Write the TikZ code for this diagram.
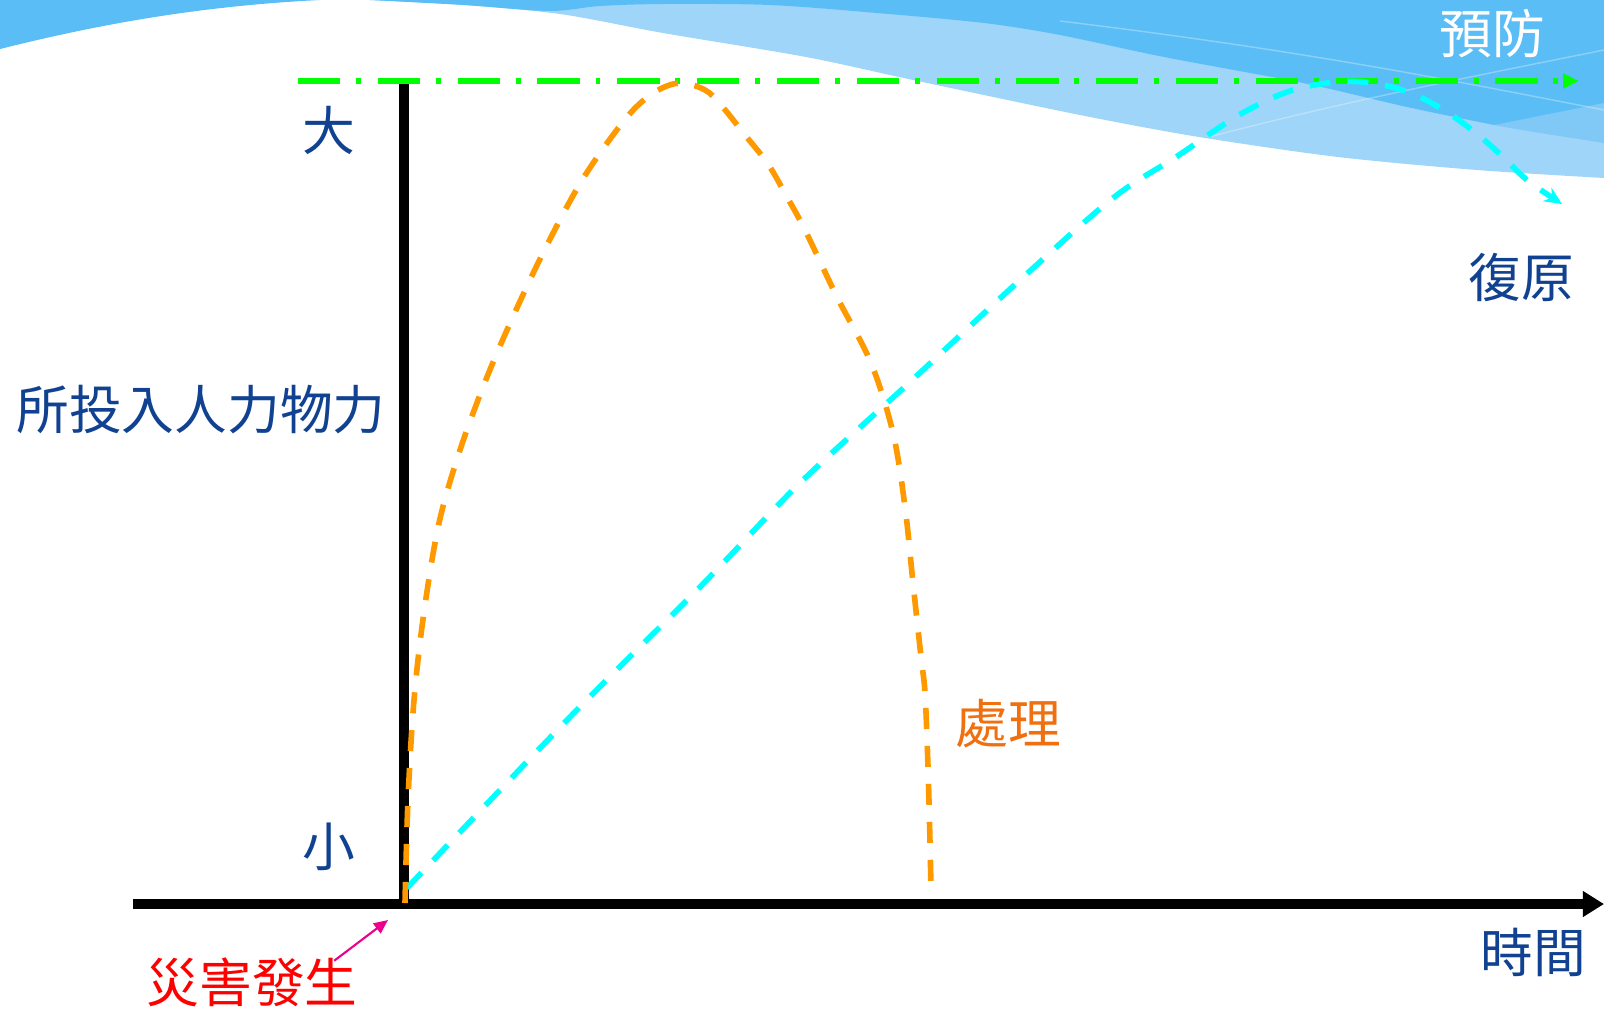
\documentclass[tikz,border=0pt]{standalone}
\usepackage{fontspec}
\newfontfamily\cjk{Noto Sans CJK TC}
\usetikzlibrary{arrows.meta, positioning, calc}
\definecolor{dmblue}{RGB}{16,66,145}
\definecolor{dmorange}{RGB}{255,153,0}
\definecolor{dmtext}{RGB}{240,112,16}
\definecolor{dmcyan}{RGB}{0,255,255}
\definecolor{dmgreen}{RGB}{0,255,0}
\definecolor{skydark}{RGB}{91,189,245}
\definecolor{skymid}{RGB}{128,200,246}
\definecolor{skylight}{RGB}{158,213,249}
\tikzset{
  dm label/.style={
    font=\cjk\fontsize{15}{18}\selectfont, text=dmblue, inner sep=0pt
  },
  dm axis/.style={
    line width=2.6pt, draw=black
  },
  dm handle/.style={
    draw=dmorange, line width=1.6pt, dash pattern=on 6pt off 4.8pt
  },
  dm recover/.style={
    draw=dmcyan, line width=1.6pt, dash pattern=on 6pt off 4.8pt,
    -{Stealth[length=5pt,width=4.5pt]}
  },
  dm prevent/.style={
    draw=dmgreen, line width=1.5pt,
    dash pattern=on 12pt off 4.5pt on 1.4pt off 4.8pt,
    -{Triangle[length=4.5pt,width=4pt]}
  },
  dm pointer/.style={
    draw=magenta, line width=0.6pt, -{Triangle[length=4pt,width=3.5pt]}
  }
}

\begin{document}
\begin{tikzpicture}[x=0.01cm, y=-0.01cm]
  \useasboundingbox (0,0) rectangle (1604,1009);

  % sky band
  \fill[skydark] (0,0) -- (0,49) .. controls (100,24) and (200,6) .. (320,0) -- cycle;
  \fill[skylight] plot[smooth] coordinates {(370,0) (464,5) (560,14) (663,33) (806,57)
    (913,80) (1080,115) (1199,137) (1338,157) (1477,170) (1604,178)} -- (1604,0) -- cycle;
  \fill[skymid] (1494,125) -- (1604,103) -- (1604,143) .. controls (1560,136) and (1520,130) .. cycle;
  \fill[skydark] plot[smooth] coordinates {(370,0) (464,5) (549,11) (600,6) (663,4) (770,5)
    (877,13) (984,23) (1060,35) (1164,57) (1303,83) (1407,107) (1494,125)}
    -- (1604,103) -- (1604,0) -- cycle;
  \draw[white, opacity=0.3, line width=0.4pt] (1060,21) .. controls (1300,50) and (1450,80) .. (1604,110);
  \draw[white, opacity=0.3, line width=0.4pt] (1209,137) .. controls (1350,100) and (1480,75) .. (1604,50);

  % axes
  \coordinate (origin) at (404,904);
  \coordinate (ytop) at (404,83);
  \coordinate (xleft) at (133,904);
  \coordinate (xright) at (1604,904);
  \draw[dm axis] (origin) -- (ytop);
  \draw[dm axis, -{Triangle[length=6pt,width=7pt]}] (xleft) -- (xright);

  % prevention level
  \coordinate (gstart) at (298,81);
  \coordinate (gend) at (1579,81);
  \draw[dm prevent] (gstart) -- (gend);

  % response curves
  \draw[dm recover] plot[smooth, tension=0.55] coordinates {(407,888) (570,717) (700,587)
    (800,483) (910,382) (1020,280) (1113,198) (1176,157) (1239,115) (1290,91) (1336,82)
    (1372,83) (1408,92) (1442,109) (1472,130) (1500,154) (1527,180) (1562,204)};
  \draw[dm handle] plot[smooth, tension=0.55] coordinates {(405,903) (408,800) (414,700)
    (424,612) (439,523) (460,450) (487,377) (516,310) (548,243) (584,177) (627,117)
    (655,92) (680,83) (705,90) (721,105) (745,135) (768,164) (787,197) (805,230)
    (837,297) (871,363) (893,433) (905,507) (913,583) (921,657) (925,693) (928,767)
    (930,843) (931,890)};

  % labels
  \node[dm label] (big) at (329,130) {大};
  \node[dm label] (small) at (329,847) {小};
  \node[dm label] (effort) at (201,410) {所投入人力物力};
  \node[dm label] (time) at (1533,952) {時間};
  \node[dm label] (restore) at (1521,278) {復原};
  \node[dm label, text=white] (prevent) at (1492,34) {預防};
  \node[dm label, text=dmtext] (handle) at (1008,724) {處理};
  \node[dm label, text=red] (disaster) at (252,982) {災害發生};

  \coordinate (hit) at (388,920);
  \draw[dm pointer] ($(disaster.north east)+(-24,4)$) -- (hit);
\end{tikzpicture}
\end{document}
